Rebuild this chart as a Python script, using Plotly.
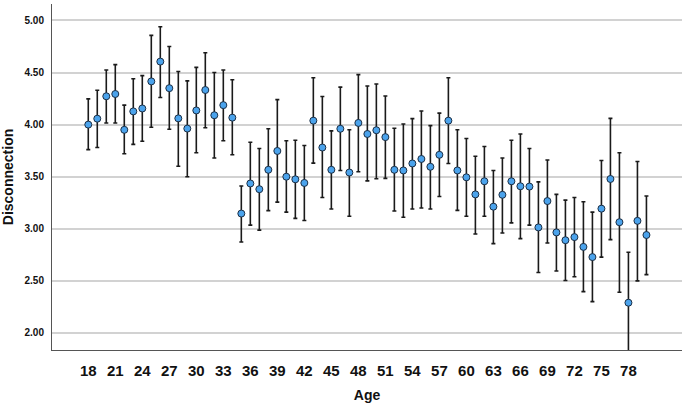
import plotly.graph_objects as go

ages = list(range(18, 81))
mean = [4.00, 4.057, 4.272, 4.294, 3.95, 4.127, 4.155, 4.415, 4.605, 4.35,
        4.06, 3.962, 4.136, 4.332, 4.09, 4.187, 4.067, 3.146, 3.435, 3.38,
        3.566, 3.747, 3.50, 3.475, 3.44, 4.038, 3.78, 3.566, 3.96, 3.54,
        4.016, 3.91, 3.946, 3.88, 3.566, 3.56, 3.627, 3.67, 3.595, 3.71,
        4.038, 3.56, 3.494, 3.33, 3.456, 3.212, 3.326, 3.456, 3.408, 3.405,
        3.013, 3.266, 2.965, 2.89, 2.92, 2.826, 2.728, 3.193, 3.478, 3.063,
        2.29, 3.076, 2.94]
upper = [4.247, 4.33, 4.525, 4.576, 4.187, 4.44, 4.47, 4.857, 4.94, 4.75,
         4.51, 4.42, 4.55, 4.69, 4.50, 4.525, 4.43, 3.41, 3.83, 3.77,
         3.96, 4.24, 3.845, 3.85, 3.80, 4.45, 4.27, 3.94, 4.36, 3.95,
         4.48, 4.37, 4.39, 4.275, 3.965, 4.006, 4.057, 4.13, 3.99, 4.11,
         4.45, 3.95, 3.867, 3.696, 3.79, 3.56, 3.68, 3.85, 3.91, 3.77,
         3.45, 3.66, 3.33, 3.275, 3.30, 3.26, 3.16, 3.655, 4.06, 3.73,
         2.775, 3.646, 3.315]
lower = [3.76, 3.78, 4.016, 4.016, 3.72, 3.81, 3.84, 3.975, 4.26, 3.956,
         3.60, 3.50, 3.73, 3.97, 3.68, 3.845, 3.71, 2.873, 3.035, 2.987,
         3.174, 3.256, 3.16, 3.10, 3.08, 3.63, 3.30, 3.19, 3.56, 3.12,
         3.547, 3.46, 3.48, 3.484, 3.17, 3.11, 3.19, 3.20, 3.19, 3.31,
         3.627, 3.177, 3.12, 2.95, 3.12, 2.857, 2.96, 3.057, 2.905, 3.035,
         2.58, 2.864, 2.595, 2.503, 2.54, 2.396, 2.30, 2.728, 2.896, 2.39,
         1.80, 2.50, 2.56]
x_ticks = list(range(18, 79, 3))
y_ticks = [2.0, 2.5, 3.0, 3.5, 4.0, 4.5, 5.0]

err_plus = [u - m for u, m in zip(upper, mean)]
err_minus = [m - l for m, l in zip(mean, lower)]

fig = go.Figure()
fig.add_trace(go.Scatter(
    x=ages, y=mean, mode="markers",
    marker=dict(size=7, color="#4ba3ec", line=dict(color="#1c2f45", width=1)),
    error_y=dict(type="data", symmetric=False, array=err_plus, arrayminus=err_minus,
                 color="#1a1a1a", thickness=1.6, width=2),
    showlegend=False,
))

fig.update_layout(
    width=685, height=404,
    margin=dict(l=49, r=3, t=4, b=49),
    paper_bgcolor="white", plot_bgcolor="white",
    font=dict(family="Liberation Sans, Arial, sans-serif", color="#111"),
)
fig.update_xaxes(
    range=[13.97, 83.95], tickvals=x_ticks, ticktext=[str(t) for t in x_ticks],
    showgrid=False, zeroline=False, showline=True, linecolor="#555", linewidth=1,
    ticks="", tickfont=dict(size=15, family="Liberation Sans, Arial", weight="bold"),
    ticklabelstandoff=7,
    title=dict(text="<b>Age</b>", font=dict(size=14), standoff=12),
)
fig.update_yaxes(
    range=[1.836, 5.158], tickvals=y_ticks, ticktext=[f"{v:.2f}" for v in y_ticks],
    showgrid=True, gridcolor="#d2d2d2", gridwidth=1.5, zeroline=False,
    showline=True, linecolor="#555", linewidth=1, ticks="",
    tickfont=dict(size=10, family="Liberation Sans, Arial", weight="bold"),
    ticklabelstandoff=5,
    title=dict(text="<b>Disconnection</b>", font=dict(size=14), standoff=12),
)

fig.write_html("out.html")
